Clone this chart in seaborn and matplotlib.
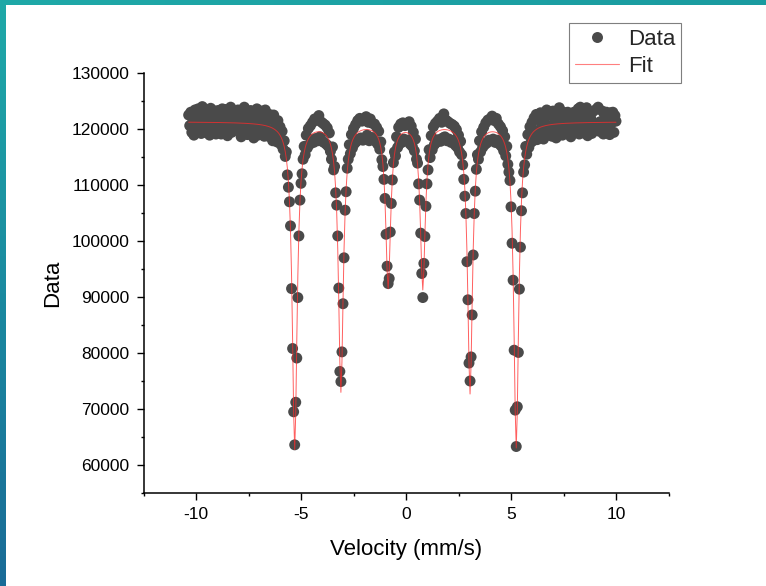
import numpy as np
import pandas as pd
import seaborn as sns
import matplotlib
matplotlib.use("Agg")
import matplotlib.pyplot as plt
from matplotlib.lines import Line2D
from matplotlib.ticker import MultipleLocator, StrMethodFormatter
from matplotlib.colors import LinearSegmentedColormap

# Channel velocity scale (mm/s): first channel and channel step
VEL_START = -10.35
VEL_STEP = 0.05

# Measured counts per channel, in thousands
counts_k = [
    122.5, 120.6, 123.0, 119.4, 121.7, 118.9, 123.4,
    121.4, 119.6, 123.6, 120.9, 122.7, 119.2, 124.0, 121.2, 122.3, 119.4,
    123.4, 120.3, 121.6, 118.9, 123.7, 119.7, 122.0, 120.8, 123.2, 119.1,
    121.0, 123.3, 119.9, 122.1, 119.1, 123.6, 120.6, 123.5, 119.6, 121.5,
    118.8, 122.4, 120.9, 123.9, 119.4, 121.8, 119.8, 123.2, 120.5, 122.1,
    123.4, 119.9, 121.3, 118.6, 123.0, 120.7, 123.9, 119.4, 121.9, 119.0,
    122.7, 120.6, 123.3, 119.8, 121.4, 118.4, 122.4, 120.2, 123.6, 118.9,
    121.1, 119.2, 123.2, 120.4, 122.2, 118.7, 123.4, 120.1, 121.6, 118.7,
    122.6, 119.9, 122.0, 117.9, 122.5, 119.4, 120.6, 117.7, 121.5, 118.8,
    120.4, 117.2, 119.6, 116.4, 117.9, 115.1, 115.9, 111.8, 109.6, 107.0,
    102.7, 91.5, 80.8, 69.5, 63.6, 71.2, 79.1, 89.9, 100.9, 107.3,
    110.3, 112.0, 114.6, 116.9, 115.4, 118.9, 116.6, 120.1, 117.2, 120.6,
    118.0, 121.2, 117.6, 121.8, 118.3, 121.6, 117.9, 122.4, 118.6, 121.3,
    117.8, 121.0, 117.6, 120.7, 117.3, 120.2, 116.9, 119.3, 116.0, 114.6,
    116.8, 112.7, 113.3, 108.6, 106.4, 100.9, 91.6, 76.7, 74.9, 80.2,
    88.8, 97.0, 105.5, 108.8, 113.0, 114.6, 117.2, 115.6, 119.0, 116.6,
    120.1, 117.4, 120.8, 117.8, 121.5, 118.1, 121.9, 118.4, 121.4, 118.0,
    121.7, 118.3, 122.2, 118.9, 121.2, 117.9, 121.8, 118.5, 121.0, 118.1,
    120.9, 117.8, 120.3, 117.3, 119.6, 116.4, 117.7, 114.5, 113.3, 111.0,
    107.6, 101.2, 95.5, 92.4, 93.3, 101.6, 106.7, 110.9, 114.0, 115.9,
    115.2, 118.6, 116.7, 120.3, 117.4, 120.9, 117.6, 121.1, 118.2, 120.6,
    117.9, 120.8, 118.0, 121.3, 117.3, 120.5, 116.9, 119.4, 116.1, 118.2,
    114.6, 113.9, 110.2, 107.3, 101.4, 94.2, 89.9, 96.0, 100.8, 106.2,
    110.2, 112.7, 116.3, 114.9, 118.8, 116.3, 120.4, 117.2, 121.0, 117.6,
    121.4, 118.1, 121.9, 117.8, 121.2, 118.4, 122.7, 118.6, 121.6, 117.9,
    121.3, 118.2, 121.0, 117.6, 120.8, 117.9, 120.5, 117.1, 119.9, 116.7,
    118.9, 115.9, 117.8, 115.4, 113.6, 111.0, 108.0, 104.9, 96.3, 89.5,
    78.2, 75.0, 79.3, 86.8, 97.5, 104.9, 108.9, 112.8, 115.4, 114.6,
    117.9, 115.9, 119.5, 116.7, 120.3, 117.2, 121.1, 117.5, 121.6, 118.0,
    121.8, 117.9, 122.3, 118.2, 121.5, 117.6, 121.9, 118.0, 120.9, 117.3,
    120.4, 116.9, 119.7, 116.1, 118.6, 115.2, 116.9, 113.7, 112.3, 110.8,
    106.1, 99.6, 93.0, 80.5, 69.8, 63.3, 70.4, 80.1, 91.4, 98.9,
    105.4, 108.6, 112.3, 113.6, 116.9, 115.5, 119.0, 116.7, 120.4, 117.6,
    121.2, 117.9, 122.0, 119.6, 122.6, 118.1, 121.7, 119.2, 122.9, 120.4,
    122.3, 118.2, 121.1, 119.3, 123.4, 118.9, 122.5, 120.6, 123.1, 118.7,
    123.2, 119.7, 121.5, 118.4, 122.8, 120.7, 123.8, 119.2, 121.2, 118.9,
    123.0, 119.4, 121.9, 119.8, 123.0, 120.3, 122.4, 118.6, 122.7, 121.0,
    123.0, 119.5, 121.6, 119.9, 123.6, 119.1, 123.9, 120.8, 122.2, 119.3,
    121.3, 120.2, 123.8, 118.8, 122.6, 119.6, 121.9, 119.2, 123.1, 120.7,
    119.8, 123.5, 120.9, 123.9, 119.6, 121.3, 120.6, 123.2, 119.1, 122.6,
    119.3, 123.0, 120.5, 121.4, 119.0, 122.9, 121.1, 123.0, 119.4, 122.4,
    121.4,
]

# Fitted sextet: baseline, six line positions (mm/s), line depths, half width
BASELINE = 121300
LINE_POS = [-5.30, -3.10, -0.85, 0.80, 3.05, 5.25]
LINE_DEPTH = [58300, 47900, 29300, 29500, 48200, 58000]
LINE_HWHM = 0.14

velocity = VEL_START + VEL_STEP * np.arange(len(counts_k))
counts = np.asarray(counts_k) * 1000.0

fit = np.full_like(velocity, BASELINE, dtype=float)
for pos, depth in zip(LINE_POS, LINE_DEPTH):
    fit -= depth * LINE_HWHM**2 / ((velocity - pos) ** 2 + LINE_HWHM**2)

df = pd.DataFrame({"Velocity": velocity, "Counts": counts, "Fit": fit})

POINT_COLOR = "#4a4a4a"
FIT_COLOR = "#ff2a2a"

sns.set_style("ticks")
plt.rcParams["font.family"] = ["Liberation Sans", "DejaVu Sans"]
plt.rcParams["axes.unicode_minus"] = False

W, H = 766, 586
fig = plt.figure(figsize=(W / 100, H / 100), dpi=100)
ax = fig.add_axes([143.5 / W, 93 / H, 525 / W, 420 / H])

sns.scatterplot(data=df, x="Velocity", y="Counts", ax=ax, s=62,
                color=POINT_COLOR, edgecolor="none", linewidth=0,
                zorder=2, legend=False)
sns.lineplot(data=df, x="Velocity", y="Fit", ax=ax, color=FIT_COLOR,
             lw=0.7, alpha=0.75, zorder=3, estimator=None, sort=False,
             legend=False)

ax.set_xlim(-12.5, 12.5)
ax.set_ylim(55000, 130000)
ax.xaxis.set_major_locator(MultipleLocator(5))
ax.xaxis.set_minor_locator(MultipleLocator(2.5))
ax.yaxis.set_major_locator(MultipleLocator(10000))
ax.yaxis.set_minor_locator(MultipleLocator(5000))
ax.yaxis.set_major_formatter(StrMethodFormatter("{x:.0f}"))
ax.xaxis.set_major_formatter(StrMethodFormatter("{x:.0f}"))

ax.tick_params(which="major", direction="out", length=5, width=1,
               labelsize=12.5, pad=5, color="black", labelcolor="black")
ax.tick_params(which="minor", direction="out", length=2.5, width=1,
               color="black")
for side in ("top", "right"):
    ax.spines[side].set_visible(False)
for side in ("left", "bottom"):
    ax.spines[side].set_linewidth(1.1)
    ax.spines[side].set_color("black")

ax.set_xlabel("Velocity (mm/s)", fontsize=16, labelpad=12, color="black")
ax.set_ylabel("Data", fontsize=16, labelpad=6, color="black")

handles = [
    Line2D([], [], linestyle="none", marker="o", markersize=7.9,
           markerfacecolor=POINT_COLOR, markeredgewidth=0),
    Line2D([], [], color=FIT_COLOR, lw=0.8, alpha=0.6),
]
leg = ax.legend(handles, ["Data", "Fit"], loc="upper right",
                bbox_to_anchor=(681 / W, 1 - 23 / H),
                bbox_transform=fig.transFigure, fontsize=16, frameon=True,
                fancybox=False, edgecolor="#7f7f7f", framealpha=1,
                borderaxespad=0, handlelength=2.0, handletextpad=0.4,
                borderpad=0.25, labelspacing=0.3)
leg.get_frame().set_linewidth(0.8)

# Teal frame strips along the left and top edges of the slide
left_cmap = LinearSegmentedColormap.from_list("left", ["#1fa9a8", "#1a8aa0", "#196b97"])
top_cmap = LinearSegmentedColormap.from_list("top", ["#1fa9a8", "#1a9ba0"])
ax_left = fig.add_axes([0, 0, 6 / W, 1])
ax_left.imshow(np.linspace(0, 1, 256)[:, None], cmap=left_cmap, aspect="auto")
ax_left.set_axis_off()
ax_top = fig.add_axes([0, 1 - 5 / H, 1, 5 / H])
ax_top.imshow(np.linspace(0, 1, 256)[None, :], cmap=top_cmap, aspect="auto")
ax_top.set_axis_off()

fig.savefig("out.png", dpi=100)
